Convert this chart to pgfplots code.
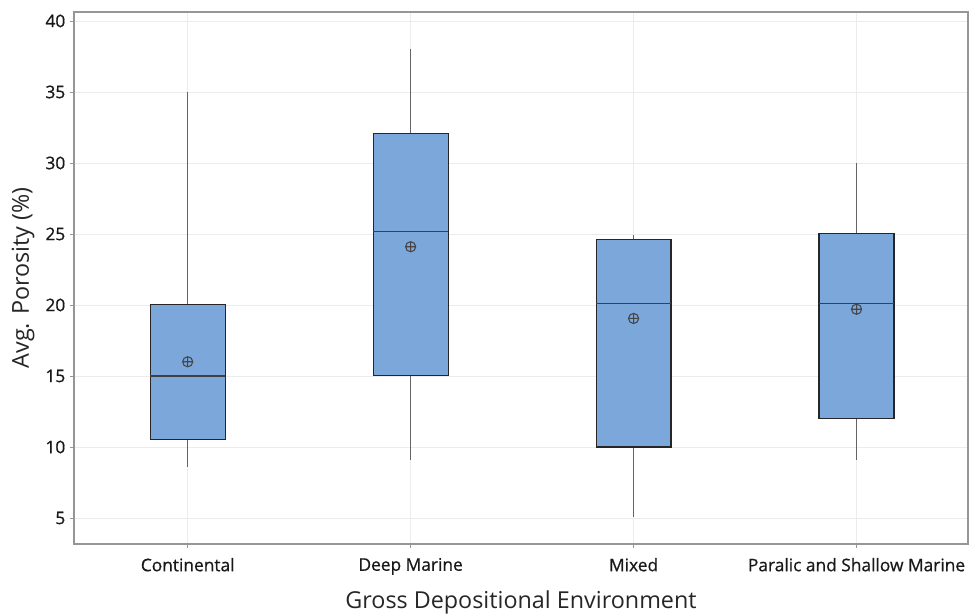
\documentclass[border=0pt]{standalone}
\usepackage{fontspec}
\setmainfont{Open Sans}
\newfontfamily\semibold{Open Sans}[FakeBold=0.7]
\usepackage{pgfplots}
\pgfplotsset{compat=1.18}
\usepgfplotslibrary{statistics}
\usetikzlibrary{plotmarks}

\definecolor{boxfill}{RGB}{124,167,219}
\definecolor{axisgray}{RGB}{150,150,150}
\definecolor{gridgray}{RGB}{236,236,236}
\definecolor{whiskgray}{RGB}{100,100,100}
\definecolor{meangray}{RGB}{70,70,70}

\begin{document}
\begin{tikzpicture}
\useasboundingbox (0,0) rectangle (729pt,462pt);
\begin{axis}[
  at={(55.5pt,54pt)}, anchor=south west,
  scale only axis, width=670.5pt, height=399pt,
  xmin=0.49, xmax=4.5, ymin=3.17, ymax=40.63,
  xtick={1,2,3,4},
  xticklabels={Continental,Deep Marine,Mixed,Paralic and Shallow Marine},
  ytick={5,10,...,40},
  tick align=outside, tick pos=left,
  major tick length=3pt,
  grid=major, major grid style={gridgray, line width=0.6pt},
  axis line style={axisgray, line width=0.8pt},
  tick style={axisgray, line width=0.6pt},
  ticklabel style={font=\semibold\fontsize{13}{15}\selectfont, text=black!90},
  xticklabel style={yshift=-4pt},
  /pgf/number format/assume math mode=true,
  xlabel={Gross Depositional Environment},
  ylabel={Avg. Porosity (\%)},
  label style={font=\fontsize{17.5}{20}\selectfont, text=black!85},
  xlabel style={at={(axis description cs:0.5,-0.122)}, anchor=base},
  ylabel style={at={(axis description cs:-0.057,0.5)}, anchor=center},
  boxplot/draw direction=y,
  boxplot/box extend=0.336,
  boxplot/whisker extend=0,
  boxplot/every whisker/.style={draw=whiskgray, line width=0.9pt},
  boxplot/every box/.style={draw=black!85, fill=boxfill, line width=0.9pt},
  boxplot/every median/.style={draw=black!75, line width=1pt},
]
% Continental
\addplot[boxplot prepared={lower whisker=8.6, lower quartile=10.5,
  median=15, upper quartile=20.05, upper whisker=35, draw position=1}]
  coordinates {};
% Deep Marine
\addplot[boxplot prepared={lower whisker=9.05, lower quartile=15.05,
  median=25.15, upper quartile=32.05, upper whisker=38, draw position=2}]
  coordinates {};
% Mixed
\addplot[boxplot prepared={lower whisker=5.05, lower quartile=10,
  median=20.1, upper quartile=24.6, upper whisker=24.95, draw position=3}]
  coordinates {};
% Paralic and Shallow Marine
\addplot[boxplot prepared={lower whisker=9.05, lower quartile=12,
  median=20.1, upper quartile=25.05, upper whisker=30, draw position=4}]
  coordinates {};
% group means
\addplot[only marks, mark=oplus, mark size=3.8pt,
  mark options={draw=meangray, line width=0.8pt}]
  coordinates {(1,16) (2,24.1) (3,19.05) (4,19.7)};
\end{axis}
\end{tikzpicture}
\end{document}
